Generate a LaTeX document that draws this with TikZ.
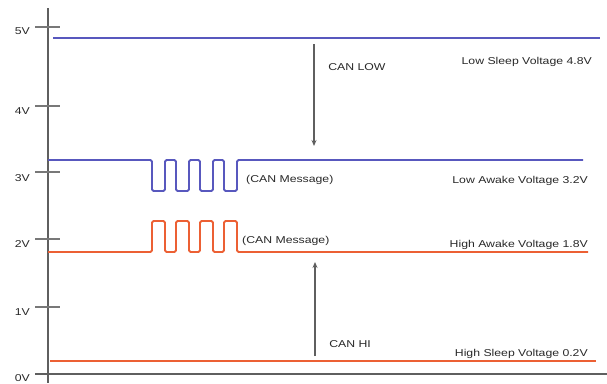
\documentclass[tikz,border=0pt]{standalone}
\usepackage{fontspec}
\setmainfont{Liberation Sans}
\usetikzlibrary{arrows.meta}
\definecolor{lowblue}{RGB}{88,88,190}
\definecolor{hiorange}{RGB}{236,96,52}
\definecolor{axisgray}{RGB}{95,95,95}
\definecolor{tickgray}{RGB}{120,120,120}
\definecolor{labelgray}{RGB}{40,40,40}
\tikzset{
  lbl/.style={inner sep=0pt, text=labelgray, font=\fontsize{10}{12}\selectfont, xscale=1.23},
  axisline/.style={draw=axisgray, line width=1.3pt},
  tickmark/.style={draw=tickgray, line width=1.3pt},
  canlow/.style={draw=lowblue, line width=1.8pt, line join=round},
  canhigh/.style={draw=hiorange, line width=1.8pt, line join=round},
  busarrow/.style={draw=axisgray, line width=1.1pt, -{Stealth[length=6pt,width=5pt]}},
}
\begin{document}
\begin{tikzpicture}[x=1bp, y=-1bp]
\useasboundingbox (0,0) rectangle (607,383);

% axes
\coordinate (ytop) at (48,8);
\coordinate (ybot) at (48,383);
\coordinate (xleft) at (35,374);
\coordinate (xright) at (607,374);
\draw[axisline] (ytop) -- (ybot);
\draw[axisline] (xleft) -- (xright);

% voltage ticks and their labels
\foreach \v/\y in {5/27,4/106,3/172,2/239,1/307} {
  \draw[tickmark] (35,\y) -- (60,\y);
}
\foreach \v/\y in {5/34,4/114,3/181,2/247,1/315,0/381} {
  \node[lbl, anchor=base east] (tick\v) at (30,\y) {\v V};
}

% CAN LOW line: sleep level and awake level with message bits
\coordinate (ls0) at (53,38);
\coordinate (ls1) at (600,38);
\draw[canlow] (ls0) -- (ls1);
\coordinate (la0) at (48,160);
\coordinate (la1) at (583,160);
\draw[canlow, rounded corners=1.5pt] (la0) -- (152,160)
  -- (152,191) -- (165,191) -- (165,160) -- (176,160)
  -- (176,191) -- (189,191) -- (189,160) -- (200,160)
  -- (200,191) -- (213,191) -- (213,160) -- (224,160)
  -- (224,191) -- (237,191) -- (237,160) -- (la1);

% CAN HI line: awake level with message bits and sleep level
\coordinate (ha0) at (48,252);
\coordinate (ha1) at (588,252);
\draw[canhigh, rounded corners=1.5pt] (ha0) -- (152,252)
  -- (152,221) -- (165,221) -- (165,252) -- (176,252)
  -- (176,221) -- (189,221) -- (189,252) -- (200,252)
  -- (200,221) -- (213,221) -- (213,252) -- (224,252)
  -- (224,221) -- (237,221) -- (237,252) -- (ha1);
\coordinate (hs0) at (50,361);
\coordinate (hs1) at (596,361);
\draw[canhigh] (hs0) -- (hs1);

% message annotations
\node[lbl, anchor=base west] (msglow) at (246,182) {(CAN Message)};
\node[lbl, anchor=base west] (msghigh) at (242,243) {(CAN Message)};

% level transitions
\coordinate (dnstart) at (314,44);
\coordinate (dnend) at (314,146);
\draw[busarrow] (dnstart) -- (dnend);
\node[lbl, anchor=base west] (canlowlbl) at (328,70) {CAN LOW};
\coordinate (upstart) at (315,356);
\coordinate (upend) at (315,262);
\draw[busarrow] (upstart) -- (upend);
\node[lbl, anchor=base west] (canhilbl) at (329,347) {CAN HI};

% level descriptions
\node[lbl, anchor=base east] (lsleep) at (592,64) {Low Sleep Voltage 4.8V};
\node[lbl, anchor=base east] (lawake) at (588,183) {Low Awake Voltage 3.2V};
\node[lbl, anchor=base east] (hawake) at (588,247) {High Awake Voltage 1.8V};
\node[lbl, anchor=base east] (hsleep) at (588,356) {High Sleep Voltage 0.2V};
\end{tikzpicture}
\end{document}
